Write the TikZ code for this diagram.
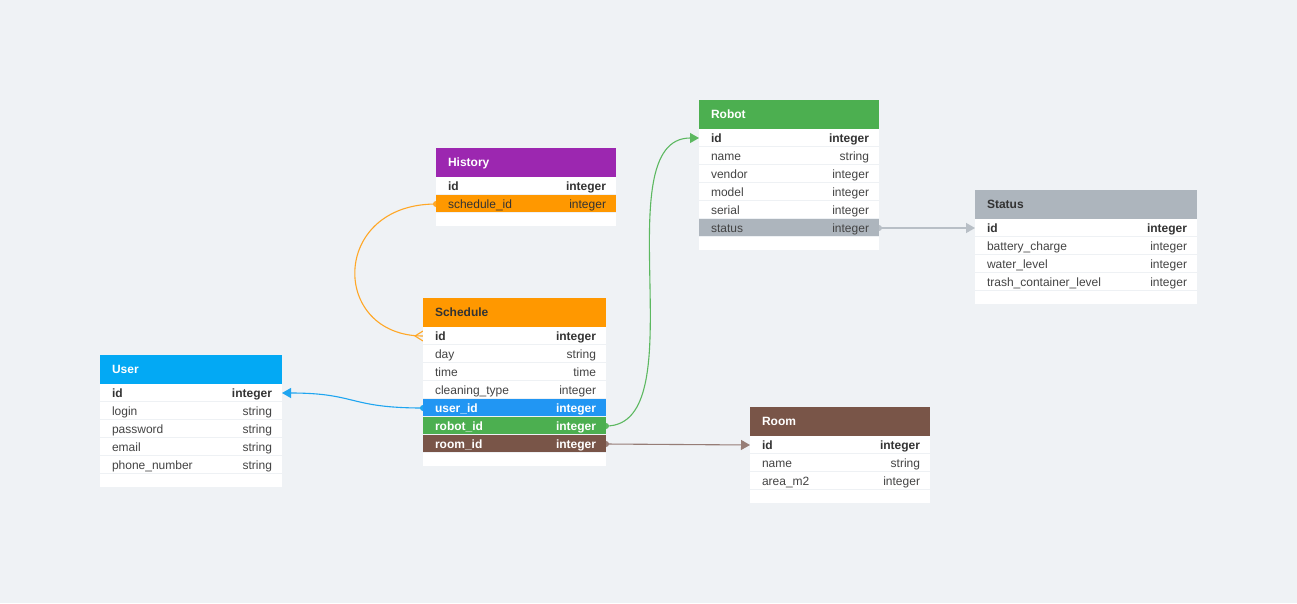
\documentclass[tikz,border=0pt]{standalone}
\usepackage{fontspec}
\setmainfont{Liberation Sans}
\usetikzlibrary{arrows.meta}

\pgfdeclarelayer{back}
\pgfdeclarelayer{edges}
\pgfsetlayers{back,edges,main}

% palette
\definecolor{canvas}{RGB}{239,242,245}
\definecolor{rowsep}{RGB}{238,241,244}
\definecolor{fieldgray}{RGB}{68,68,68}
\definecolor{keydark}{RGB}{51,51,51}
\definecolor{userhead}{RGB}{3,169,244}
\definecolor{userrow}{RGB}{33,150,243}
\definecolor{orangeC}{RGB}{255,152,0}
\definecolor{purpleC}{RGB}{156,39,176}
\definecolor{greenC}{RGB}{76,175,80}
\definecolor{brownC}{RGB}{121,85,72}
\definecolor{grayC}{RGB}{173,181,189}
\definecolor{orangeline}{RGB}{255,167,38}
\definecolor{userline}{RGB}{30,165,240}
\definecolor{greenline}{RGB}{92,184,96}
\definecolor{grayline}{RGB}{184,191,198}
\definecolor{brownline}{RGB}{150,125,118}

\tikzset{
  cell/.style={rectangle, draw=none, fill=white, inner sep=0pt, outer sep=0pt,
    anchor=north west, minimum height=18pt},
  headcell/.style={cell, minimum height=29pt},
  footcell/.style={cell, minimum height=13pt},
  txt/.style={inner sep=0pt, outer sep=0pt, font=\fontsize{12}{14}\selectfont, text=fieldgray},
  fieldtxt/.style={txt, anchor=base west},
  typetxt/.style={txt, anchor=base east},
  titletxt/.style={txt, anchor=base west, font=\fontsize{12}{14}\selectfont\bfseries},
  keytxt/.style={font=\fontsize{12}{14}\selectfont\bfseries, text=keydark},
  lighttxt/.style={font=\fontsize{12}{14}\selectfont\bfseries, text=white},
  darktxt/.style={text=keydark},
  sepline/.style={draw=rowsep, line width=1.2pt},
  link/.style={line width=1.1pt},
  tip/.style={-{Triangle[length=9pt,width=10pt]}},
}

% table header: name, x, y, width, fill, text colour, title
\newcommand\tablehead[7]{%
  \node[headcell, minimum width=#4, fill=#5] (#1) at (#2,#3) {};
  \node[titletxt, text=#6] (#1-title) at ([xshift=12pt,yshift=-4pt]#1.west) {#7};
}
% table row: name, x, y, width, cell style, text style, field, type
\newcommand\tablerow[8]{%
  \node[cell, minimum width=#4, #5] (#1) at (#2,#3) {};
  \draw[sepline] ([yshift=0.6pt]#1.south west) -- ([yshift=0.6pt]#1.south east);
  \node[fieldtxt, #6] (#1-f) at ([xshift=12pt,yshift=-4.5pt]#1.west) {#7};
  \node[typetxt, #6] (#1-t) at ([xshift=-10pt,yshift=-4.5pt]#1.east) {#8};
}
% table footer: name, x, y, width
\newcommand\tablefoot[4]{%
  \node[footcell, minimum width=#4] (#1) at (#2,#3) {};
}

\begin{document}
\begin{tikzpicture}[x=1pt, y=-1pt]
\useasboundingbox (0,0) rectangle (1297,603);
\begin{pgfonlayer}{back}
  \fill[canvas] (0,0) rectangle (1297,603);
\end{pgfonlayer}

% User
\tablehead{user}{100}{355}{182}{userhead}{white}{User}
\tablerow{user-id}{100}{384}{182}{}{keytxt}{id}{integer}
\tablerow{user-login}{100}{402}{182}{}{}{login}{string}
\tablerow{user-pass}{100}{420}{182}{}{}{password}{string}
\tablerow{user-mail}{100}{438}{182}{}{}{email}{string}
\tablerow{user-phone}{100}{456}{182}{}{}{phone\_number}{string}
\tablefoot{user-end}{100}{474}{182}

% Schedule
\tablehead{sch}{423}{298}{183}{orangeC}{keydark}{Schedule}
\tablerow{sch-id}{423}{327}{183}{}{keytxt}{id}{integer}
\tablerow{sch-day}{423}{345}{183}{}{}{day}{string}
\tablerow{sch-time}{423}{363}{183}{}{}{time}{time}
\tablerow{sch-type}{423}{381}{183}{}{}{cleaning\_type}{integer}
\tablerow{sch-uid}{423}{399}{183}{fill=userrow}{lighttxt}{user\_id}{integer}
\tablerow{sch-rid}{423}{417}{183}{fill=greenC}{lighttxt}{robot\_id}{integer}
\tablerow{sch-room}{423}{435}{183}{fill=brownC}{lighttxt}{room\_id}{integer}
\tablefoot{sch-end}{423}{453}{183}

% History
\tablehead{hist}{436}{148}{180}{purpleC}{white}{History}
\tablerow{hist-id}{436}{177}{180}{}{keytxt}{id}{integer}
\tablerow{hist-sid}{436}{195}{180}{fill=orangeC}{darktxt}{schedule\_id}{integer}
\tablefoot{hist-end}{436}{213}{180}

% Robot
\tablehead{robot}{699}{100}{180}{greenC}{white}{Robot}
\tablerow{robot-id}{699}{129}{180}{}{keytxt}{id}{integer}
\tablerow{robot-name}{699}{147}{180}{}{}{name}{string}
\tablerow{robot-vendor}{699}{165}{180}{}{}{vendor}{integer}
\tablerow{robot-model}{699}{183}{180}{}{}{model}{integer}
\tablerow{robot-serial}{699}{201}{180}{}{}{serial}{integer}
\tablerow{robot-status}{699}{219}{180}{fill=grayC}{}{status}{integer}
\tablefoot{robot-end}{699}{237}{180}

% Status
\tablehead{stat}{975}{190}{222}{grayC}{keydark}{Status}
\tablerow{stat-id}{975}{219}{222}{}{keytxt}{id}{integer}
\tablerow{stat-batt}{975}{237}{222}{}{}{battery\_charge}{integer}
\tablerow{stat-water}{975}{255}{222}{}{}{water\_level}{integer}
\tablerow{stat-trash}{975}{273}{222}{}{}{trash\_container\_level}{integer}
\tablefoot{stat-end}{975}{291}{222}

% Room
\tablehead{room}{750}{407}{180}{brownC}{white}{Room}
\tablerow{room-id}{750}{436}{180}{}{keytxt}{id}{integer}
\tablerow{room-name}{750}{454}{180}{}{}{name}{string}
\tablerow{room-area}{750}{472}{180}{}{}{area\_m2}{integer}
\tablefoot{room-end}{750}{490}{180}

% relations
\begin{pgfonlayer}{edges}
  % History.schedule_id -> Schedule.id (many)
  \fill[orangeline] (hist-sid.west) circle (3pt);
  \draw[link, orangeline] (hist-sid.west) .. controls +(-106,0) and +(-93,0) .. (sch-id.west);
  \draw[link, orangeline] ([yshift=5pt]sch-id.west) -- ([xshift=-8pt]sch-id.west) -- ([yshift=-5pt]sch-id.west);

  % Schedule.user_id -> User.id
  \fill[userline] (sch-uid.west) circle (3pt);
  \draw[link, userline, tip] (sch-uid.west) .. controls +(-75,0) and +(75,0) .. (user-id.east);

  % Schedule.robot_id -> Robot.id
  \fill[greenline] (sch-rid.east) circle (3pt);
  \draw[link, greenline, tip] (sch-rid.east) .. controls +(92,0) and +(-96,0) .. (robot-id.west);

  % Schedule.room_id -> Room.id
  \fill[brownline] (sch-room.east) circle (3pt);
  \draw[link, brownline, tip] (sch-room.east) -- (room-id.west);

  % Robot.status -> Status.id
  \fill[grayline] (robot-status.east) circle (3pt);
  \draw[link, grayline, line width=1.4pt, tip] (robot-status.east) -- (stat-id.west);
\end{pgfonlayer}
\end{tikzpicture}
\end{document}
